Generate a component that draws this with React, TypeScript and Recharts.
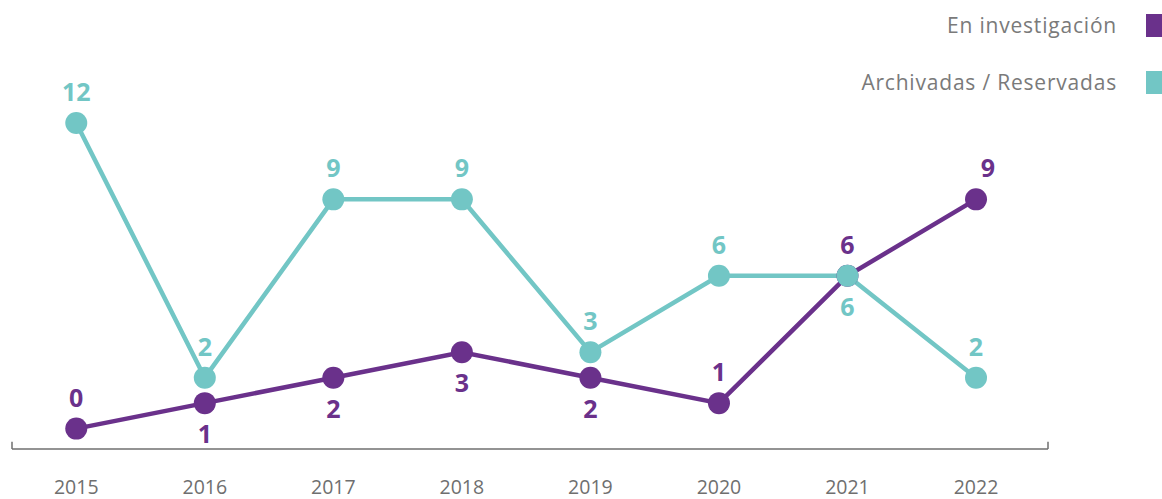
import React from 'react';
import {
  LineChart,
  Line,
  XAxis,
  YAxis,
  ReferenceLine,
} from 'recharts';

// Datos del gráfico
const years = ['2015', '2016', '2017', '2018', '2019', '2020', '2021', '2022'];
const enInvestigacion = [0, 1, 2, 3, 2, 1, 6, 9];
const archivadas = [12, 2, 9, 9, 3, 6, 6, 2];

// lado de la etiqueta de cada punto
const investigacionLabelSide = ['up', 'down', 'down', 'down', 'down', 'up', 'up', 'up'];
const archivadasLabelSide = ['up', 'up', 'up', 'up', 'up', 'up', 'down', 'up'];

const PURPLE = '#6A318B';
const TEAL = '#72C6C5';
const GRAY = '#6F6F6F';
const FONT = '"Open Sans", sans-serif';
const X_MAX = 8.06;

const series = [
  { name: 'En investigación', color: PURPLE, top: 14 },
  { name: 'Archivadas / Reservadas', color: TEAL, top: 71 },
];

const data = years.map((year, i) => ({
  x: i + 0.5,
  year,
  investigacion: enInvestigacion[i],
  archivadas: archivadas[i],
}));

const makeLabel = (color: string, sides: string[], lastDx = 0) => (props: any) => {
  const { x, y, value, index } = props;
  const up = sides[index] === 'up';
  const dx = index === sides.length - 1 ? lastDx : 0;
  return (
    <text
      x={x + dx}
      y={y + (up ? -32 : 30)}
      fill={color}
      fontSize={25}
      fontWeight={700}
      fontFamily={FONT}
      textAnchor="middle"
      dominantBaseline="central"
    >
      {value}
    </text>
  );
};

function ChartLegend() {
  return (
    <>
      {series.map((item) => (
        <div
          key={item.name}
          style={{
            position: 'absolute',
            right: 45,
            top: item.top - 2,
            height: 27,
            lineHeight: '27px',
            fontFamily: FONT,
            fontSize: 21,
            letterSpacing: 0.8,
            color: '#7A7A7A',
            whiteSpace: 'nowrap',
          }}
        >
          {item.name}
        </div>
      ))}
      {series.map((item) => (
        <div
          key={item.name + '-sq'}
          style={{ position: 'absolute', left: 1146, top: item.top, width: 23, height: 23, background: item.color }}
        />
      ))}
    </>
  );
}

export default function App() {
  return (
    <div style={{ position: 'absolute', left: 0, top: 0, width: 1162, height: 499, background: '#fff', overflow: 'hidden' }}>
      <LineChart
        width={1162}
        height={499}
        data={data}
        margin={{ top: 72, right: 114, bottom: 0, left: 12 }}
      >
        <XAxis
          type="number"
          dataKey="x"
          domain={[0, X_MAX]}
          ticks={data.map((d) => d.x)}
          tickFormatter={(v: number) => years[Math.floor(v)]}
          height={50}
          axisLine={{ stroke: GRAY, strokeWidth: 1.5 }}
          tickLine={false}
          tickSize={0}
          tickMargin={31}
          tick={{ fill: GRAY, fontSize: 19.5, fontFamily: FONT }}
          allowDataOverflow
        />
        <YAxis hide domain={[-0.8, 14]} allowDataOverflow />
        <ReferenceLine
          segment={[{ x: 0, y: -0.8 }, { x: 0, y: -0.52 }]}
          stroke={GRAY}
          strokeWidth={1.5}
          ifOverflow="visible"
        />
        <ReferenceLine
          segment={[{ x: X_MAX, y: -0.8 }, { x: X_MAX, y: -0.52 }]}
          stroke={GRAY}
          strokeWidth={1.5}
          ifOverflow="visible"
        />
        <Line
          type="linear"
          dataKey="investigacion"
          name="En investigación"
          stroke={PURPLE}
          strokeWidth={4.5}
          dot={{ r: 11, fill: PURPLE, stroke: PURPLE, strokeWidth: 0 }}
          activeDot={false}
          label={makeLabel(PURPLE, investigacionLabelSide, 12)}
          isAnimationActive={false}
        />
        <Line
          type="linear"
          dataKey="archivadas"
          name="Archivadas / Reservadas"
          stroke={TEAL}
          strokeWidth={4.5}
          dot={{ r: 11, fill: TEAL, stroke: TEAL, strokeWidth: 0 }}
          activeDot={false}
          label={makeLabel(TEAL, archivadasLabelSide)}
          isAnimationActive={false}
        />
      </LineChart>
      <ChartLegend />
    </div>
  );
}
